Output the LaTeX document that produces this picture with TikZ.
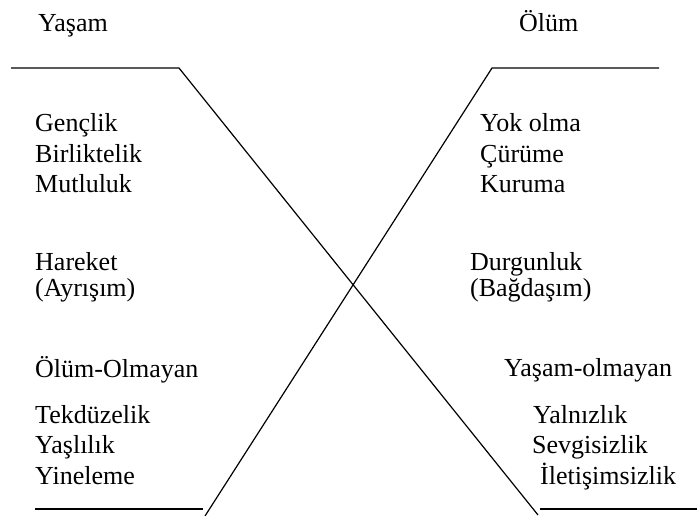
\documentclass[tikz,border=0pt]{standalone}
\usepackage{fontspec}
\setmainfont{Liberation Serif}
\begin{document}
\begin{tikzpicture}[x=1pt,y=-1pt,
  lbl/.style={anchor=base west,inner sep=0pt,font=\fontsize{26}{31}\selectfont},
  stroke/.style={line width=1.2pt,black}]
\useasboundingbox (0,0) rectangle (697,516);
% corner points of the two crossing strokes
\coordinate (tl0) at (11,68);
\coordinate (tl1) at (179,68);
\coordinate (br0) at (538,515);
\coordinate (tr0) at (492,68);
\coordinate (tr1) at (659,68);
\coordinate (bl0) at (205,516);
\coordinate (bla) at (35,509);
\coordinate (blb) at (203,509);
\coordinate (bra) at (540,509);
\coordinate (brb) at (697,509);
\draw[stroke] (tl0) -- (tl1) -- (br0);
\draw[stroke] (tr1) -- (tr0) -- (bl0);
\draw[stroke] (bla) -- (blb);
\draw[stroke] (bra) -- (brb);
% left column
\node[lbl] (yasam) at (38,32) {Yaşam};
\node[lbl] (l1) at (35,132) {Gençlik};
\node[lbl] (l2) at (35,163) {Birliktelik};
\node[lbl] (l3) at (35,193) {Mutluluk};
\node[lbl] (l4) at (35,270) {Hareket};
\node[lbl] (l5) at (35,297) {(Ayrışım)};
\node[lbl] (l6) at (35,377) {Ölüm-Olmayan};
\node[lbl] (l7) at (35,423) {Tekdüzelik};
\node[lbl] (l8) at (35,453) {Yaşlılık};
\node[lbl] (l9) at (35,484) {Yineleme};
% right column
\node[lbl] (olum) at (519,32) {Ölüm};
\node[lbl] (r1) at (480,132) {Yok olma};
\node[lbl] (r2) at (480,163) {Çürüme};
\node[lbl] (r3) at (480,193) {Kuruma};
\node[lbl] (r4) at (470,270) {Durgunluk};
\node[lbl] (r5) at (470,297) {(Bağdaşım)};
\node[lbl] (r6) at (504,376) {Yaşam-olmayan};
\node[lbl] (r7) at (533,423) {Yalnızlık};
\node[lbl] (r8) at (532,453) {Sevgisizlik};
\node[lbl] (r9) at (540,484) {İletişimsizlik};
\end{tikzpicture}
\end{document}
